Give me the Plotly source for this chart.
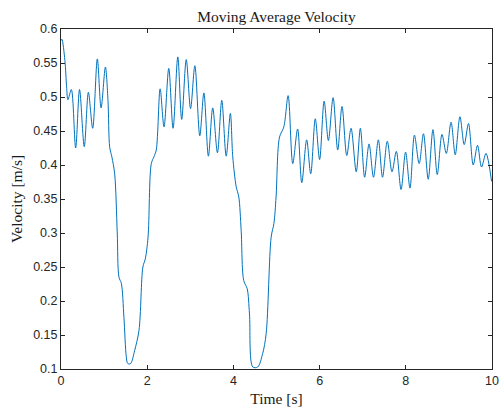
import plotly.graph_objects as go

# Time [s] and velocity [m/s] (extrema and key shape points)
time_s = [0.00, 0.02, 0.09, 0.13, 0.16, 0.24, 0.34, 0.43, 0.54, 0.635, 0.735, 0.843, 0.93, 1.03,
          1.09, 1.13, 1.18, 1.245, 1.305, 1.345, 1.40, 1.46, 1.515, 1.55, 1.615, 1.708, 1.81,
          1.90, 1.956, 2.02, 2.095, 2.156, 2.21, 2.30, 2.39, 2.50, 2.60, 2.71, 2.80, 2.906,
          3.006, 3.106, 3.22, 3.315, 3.42, 3.52, 3.63, 3.73, 3.833, 3.93, 3.985, 4.065, 4.125,
          4.18, 4.24, 4.32, 4.373, 4.45, 4.565, 4.68, 4.76, 4.876, 4.94, 4.99, 5.07, 5.17,
          5.27, 5.377, 5.49, 5.586, 5.70, 5.794, 5.90, 6.00, 6.105, 6.204, 6.313, 6.42, 6.52,
          6.63, 6.73, 6.85, 6.946, 7.045, 7.147, 7.25, 7.363, 7.46, 7.57, 7.68, 7.78, 7.89,
          7.995, 8.097, 8.20, 8.31, 8.41, 8.52, 8.63, 8.73, 8.84, 8.94, 9.05, 9.147, 9.256,
          9.356, 9.455, 9.564, 9.664, 9.757, 9.86, 9.99]
velocity = [0.583, 0.585, 0.554, 0.515, 0.496, 0.511, 0.425, 0.511, 0.427, 0.507, 0.454, 0.556,
            0.484, 0.544, 0.495, 0.426, 0.412, 0.387, 0.300, 0.235, 0.226, 0.176, 0.118, 0.108,
            0.108, 0.127, 0.157, 0.250, 0.262, 0.294, 0.402, 0.412, 0.422, 0.512, 0.456, 0.542,
            0.454, 0.559, 0.467, 0.555, 0.483, 0.546, 0.443, 0.506, 0.413, 0.484, 0.418, 0.495,
            0.413, 0.476, 0.412, 0.368, 0.353, 0.304, 0.230, 0.218, 0.181, 0.103, 0.103, 0.123,
            0.152, 0.294, 0.314, 0.353, 0.441, 0.456, 0.502, 0.402, 0.453, 0.374, 0.437, 0.387,
            0.468, 0.408, 0.494, 0.436, 0.499, 0.422, 0.486, 0.414, 0.454, 0.390, 0.454, 0.382,
            0.431, 0.382, 0.437, 0.382, 0.435, 0.390, 0.420, 0.364, 0.419, 0.366, 0.444, 0.402,
            0.446, 0.379, 0.452, 0.386, 0.445, 0.417, 0.463, 0.415, 0.471, 0.430, 0.461, 0.400,
            0.429, 0.397, 0.417, 0.376]

x_ticks = [0, 2, 4, 6, 8, 10]
y_ticks = [0.1, 0.15, 0.2, 0.25, 0.3, 0.35, 0.4, 0.45, 0.5, 0.55, 0.6]
y_tick_text = ["0.1", "0.15", "0.2", "0.25", "0.3", "0.35", "0.4", "0.45", "0.5", "0.55", "0.6"]

fig = go.Figure()
fig.add_trace(go.Scatter(
    x=time_s, y=velocity, mode="lines",
    line=dict(color="#0072BD", width=1, shape="spline", smoothing=0.9),
    showlegend=False, hoverinfo="x+y"))

axis_color = "#262626"
serif = "Liberation Serif, DejaVu Serif, serif"
sans = "Liberation Sans, Arial, sans-serif"

fig.update_layout(
    width=500, height=409,
    margin=dict(l=61, r=8, t=29, b=40, autoexpand=False),
    paper_bgcolor="white", plot_bgcolor="white",
    title=dict(text="Moving Average Velocity", x=0.553, xanchor="center",
               y=1 - 17 / 409, yanchor="middle", yref="container",
               font=dict(family=serif, size=15.5, color="#1a1a1a")),
    font=dict(family=sans, size=12.5, color=axis_color),
)
fig.update_xaxes(
    range=[0, 10], tickvals=x_ticks, ticktext=[str(v) for v in x_ticks],
    ticks="inside", ticklen=4, tickwidth=1, tickcolor=axis_color,
    showline=True, linecolor=axis_color, linewidth=1, mirror="allticks",
    showgrid=False, zeroline=False, automargin=False,
    tickfont=dict(family=sans, size=12.5, color=axis_color),
    title=dict(text="Time [s]", font=dict(family=serif, size=15.5, color="#1a1a1a"), standoff=6),
)
fig.update_yaxes(
    range=[0.1, 0.6], tickvals=y_ticks, ticktext=y_tick_text,
    ticks="inside", ticklen=4, tickwidth=1, tickcolor=axis_color,
    showline=True, linecolor=axis_color, linewidth=1, mirror="allticks",
    showgrid=False, zeroline=False, automargin=False,
    tickfont=dict(family=sans, size=12.5, color=axis_color),
    title=dict(text="Velocity [m/s]", font=dict(family=serif, size=15.5, color="#1a1a1a"), standoff=6),
)

fig.write_html("out.html")
